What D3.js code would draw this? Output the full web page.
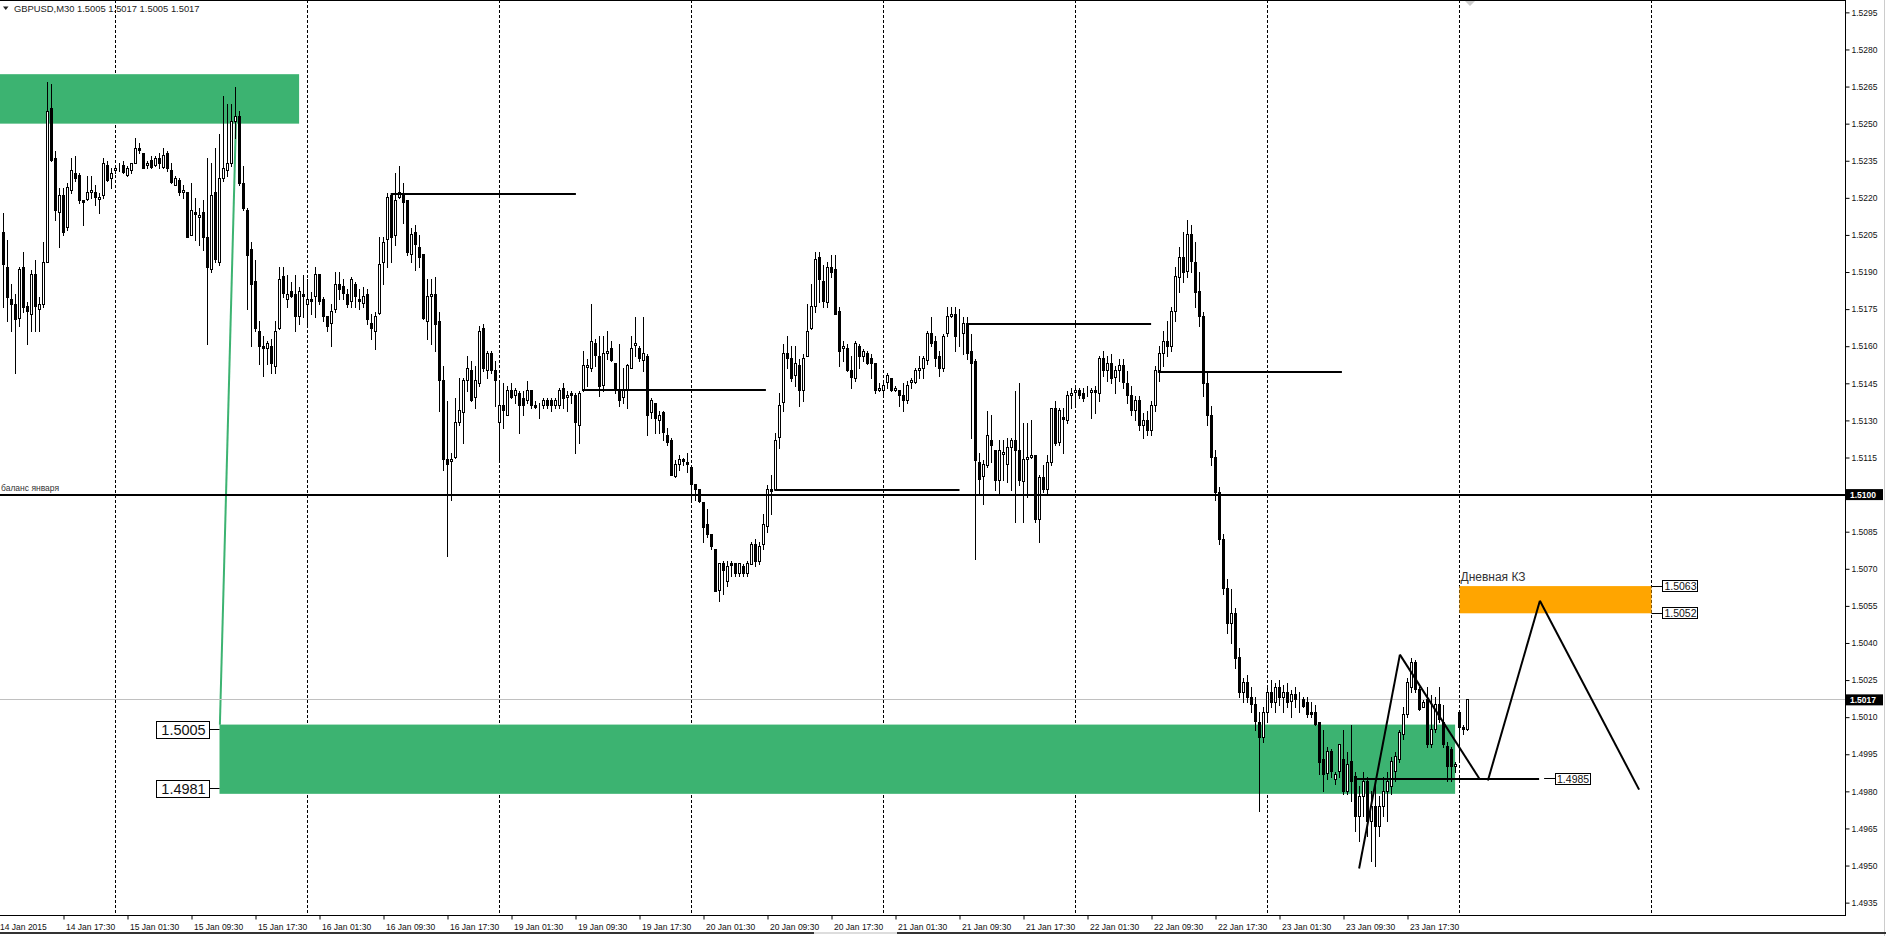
<!DOCTYPE html>
<html>
<head>
<meta charset="utf-8">
<script src="https://cdn.jsdelivr.net/npm/d3@7"></script>
<style>
  body { margin: 0; background: #fff; }
  svg { display: block; }
  text { font-family: "Liberation Sans", Arial, sans-serif; fill: #111; }
</style>
</head>
<body>
<svg id="chart" width="1886" height="936"></svg>
<script>
// GBPUSD M30, 14-26 Jan 2015. Candles are [open, high, low, close] in pips above 1.5000
const SYMBOL = "GBPUSD,M30";
const LAST_OHLC = [1.5005, 1.5017, 1.5005, 1.5017];
const FIRST_SLOT = 20; // first visible bar of 14 Jan is 10:00

const jan14 = [
  [206,214,176,193],[192,203,170,180],[179,185,166,177],[177,181,149,171],[171,192,168,191],
  [192,198,174,176],[176,178,161,174],[173,191,166,189],[189,195,166,176],[175,180,166,177],
  [177,202,176,194],[194,267,194,255],[256,266,235,235],[236,239,211,215],[214,224,200,221],
  [221,224,205,206],[208,226,207,224],[223,236,222,231],[230,237,227,228],[229,230,218,219],
  [219,219,209,218],[219,229,219,222],[222,229,220,223],[222,225,217,220],[219,222,214,220],
  [221,236,220,234],[233,235,227,227],[228,232,224,230]
];
const jan15 = [
  [231,233,230,232],[232,234,231,232],[233,235,230,230],[229,233,229,232],[231,234,230,234],
  [234,244,234,240],[240,242,238,239],[238,238,232,232],[233,235,232,234],[235,237,232,232],
  [233,237,233,236],[236,238,232,234],[232,240,232,237],[238,239,231,232],[231,234,226,226],
  [225,229,225,228],[227,228,221,222],[222,225,220,223],[222,222,204,204],[205,226,205,215],
  [214,220,203,213],[212,216,201,213],[214,219,199,204],[204,236,161,192],[191,234,190,221],
  [222,240,194,195],[194,246,193,228],[228,261,227,232],[231,258,229,234],[234,258,233,251],
  [251,265,244,253],[253,255,225,226],[226,233,215,216],[215,216,175,197],[199,202,160,185],
  [186,195,166,167],[166,170,153,160],[160,164,148,159],[159,162,153,161],[160,163,149,153],
  [152,170,149,166],[167,192,167,187],[188,192,180,181],[179,189,176,181],[182,186,180,180],
  [181,189,166,172],[172,184,169,182],[181,189,172,180]
];
const jan16 = [
  [177,187,168,179],[179,182,173,178],[180,192,172,189],[189,189,177,178],[179,180,170,172],
  [172,172,166,168],[169,177,160,174],[175,190,174,185],[185,190,179,183],[184,187,179,181],
  [181,183,176,177],[178,188,176,187],[185,186,176,180],[179,183,175,178],[177,184,176,180],
  [181,183,169,171],[169,173,163,167],[166,174,159,172],[173,204,173,193],[194,204,185,202],
  [203,222,192,220],[221,222,194,204],[205,230,201,219],[220,233,220,222],[221,226,210,218],
  [219,219,197,198],[197,208,194,205],[206,209,191,201],[200,205,192,196],[197,197,171,171],
  [170,187,163,180],[180,187,161,181],[181,188,158,169],[170,174,134,146],[146,152,110,114],
  [114,138,75,112],[113,117,98,114],[115,139,115,129],[129,147,128,134],[133,147,121,146],
  [146,156,142,151],[150,154,138,138],[139,152,135,146],[145,168,144,166],[167,169,150,151],
  [150,158,147,157],[157,158,149,150],[150,154,136,146]
];
const jan19 = [
  [129,145,114,136],[136,145,127,134],[132,144,132,142],[142,145,139,139],[140,143,137,142],
  [141,142,125,136],[139,142,132,136],[138,146,137,142],[142,142,135,136],[136,138,135,135],
  [136,137,131,136],[136,139,135,138],[138,139,135,136],[138,139,134,136],[136,139,135,138],
  [136,143,135,142],[143,145,135,139],[139,142,134,140],[141,142,137,140],[140,141,117,129],
  [128,142,121,141],[142,158,142,152],[151,155,144,152],[151,177,150,162],[161,163,152,156],
  [156,164,140,144],[144,164,142,157],[157,166,155,158],[159,162,154,154],[153,153,141,142],
  [142,161,136,138],[139,151,137,142],[142,153,135,152],[151,164,151,159],[160,172,156,161],
  [159,160,154,155],[154,172,150,157],[156,157,124,132],[133,139,131,138],[137,137,125,131],
  [130,134,125,132],[133,134,122,125],[124,127,120,121],[122,123,108,108],[107,114,107,112],
  [112,116,110,114],[114,115,112,113],[113,117,109,112]
];
const jan20 = [
  [111,111,98,104],[104,104,98,102],[102,102,97,97],[97,97,81,87],[88,94,83,84],
  [84,84,78,79],[78,78,61,61],[61,72,57,72],[72,73,60,69],[65,73,63,71],
  [72,73,67,71],[72,72,67,68],[68,72,67,72],[71,72,67,68],[68,73,67,72],
  [72,81,72,80],[80,82,71,73],[73,81,72,79],[80,92,78,88],[87,104,85,102],
  [102,108,92,101],[102,125,102,122],[123,141,119,136],[137,161,134,157],[157,164,151,155],
  [155,160,146,147],[148,160,144,153],[152,155,136,142],[142,157,138,155],[156,177,156,166],
  [167,185,167,176],[176,198,174,195],[196,198,178,187],[186,193,176,178],[178,194,176,192],
  [192,197,188,190],[191,197,173,173],[174,176,152,158],[159,162,154,160],[159,161,150,150],
  [150,156,143,147],[147,162,146,161],[160,161,151,156],[156,159,154,158],[157,158,153,153],
  [155,157,147,153],[153,153,141,142],[142,145,142,143]
];
const jan21 = [
  [142,146,140,144],[145,149,143,148],[147,147,142,142],[142,144,142,143],[142,142,136,140],
  [140,145,134,138],[138,146,137,144],[145,147,143,146],[145,151,145,150],[150,156,147,151],
  [151,156,147,155],[154,166,153,165],[165,172,160,161],[162,164,152,155],[156,158,148,151],
  [151,165,150,164],[165,176,164,172],[172,176,172,173],[173,176,158,164],[164,175,160,164],
  [165,172,157,169],[169,172,155,157],[158,165,123,153],[154,155,74,114],[113,117,100,106],
  [107,114,96,112],[112,134,111,124],[122,132,113,120],[118,118,102,106],[106,122,100,118],
  [116,122,106,117],[112,123,105,119],[119,123,102,122],[122,142,89,118],[118,145,104,106],
  [105,129,89,114],[114,129,99,115],[115,130,115,116],[116,116,89,90],[90,108,81,107],
  [107,112,101,102],[102,116,100,113],[113,135,112,135],[135,138,120,121],[121,135,120,134],
  [131,135,117,130],[130,142,129,140],[140,143,135,141]
];
const jan22 = [
  [141,144,136,142],[142,143,139,140],[141,143,138,139],[141,144,140,141],[141,143,131,142],
  [142,144,133,141],[141,156,138,155],[155,158,148,150],[150,156,146,153],[153,157,145,147],
  [147,152,141,150],[150,155,146,152],[152,155,143,145],[145,150,137,140],[140,144,132,134],
  [134,140,130,138],[138,140,126,128],[128,133,123,130],[130,134,124,126],[126,138,124,136],
  [136,152,134,150],[150,160,146,157],[157,166,152,162],[162,170,156,160],[160,176,158,174],
  [174,192,170,188],[188,200,182,196],[196,206,186,190],[190,211,188,205],[205,209,190,194],
  [194,202,176,182],[182,190,168,172],[172,174,140,145],[145,150,128,132],[132,136,112,115],
  [115,118,98,101],[101,103,80,82],[82,84,60,62],[62,66,44,48],[48,62,40,52],
  [52,54,30,34],[34,38,18,20],[20,26,16,24],[24,27,16,18],[18,22,12,15],
  [15,18,5,8],[8,12,-28,2],[2,14,0,12]
];
const jan23 = [
  [12,22,8,20],[20,25,14,16],[16,24,12,22],[22,25,15,18],[18,23,12,20],
  [20,24,14,16],[16,21,10,19],[19,22,14,17],[17,20,12,17],[17,18,14,14],
  [16,18,10,11],[12,16,10,11],[12,15,7,7],[8,8,-13,-8],[-7,5,-20,-13],
  [-13,-2,-15,-4],[-4,-3,-14,-12],[-15,-12,-17,-13],[-12,-1,-14,-1],[-7,5,-21,-20],
  [-20,-4,-21,-9],[-8,7,-24,-16],[-14,-12,-36,-30],[-30,-18,-40,-22],[-22,-12,-30,-16],
  [-16,-14,-38,-32],[-32,-20,-48,-26],[-26,-16,-50,-34],[-34,-22,-38,-26],[-26,-14,-30,-20],
  [-20,-12,-32,-16],[-18,-6,-21,-8],[-12,-4,-16,-6],[-7,5,-8,4],[3,14,1,11],
  [11,26,10,24],[22,34,20,32],[32,33,20,21],[21,22,13,13],[14,17,14,16],
  [17,22,-2,-1],[-1,19,-2,5],[5,18,4,15],[15,22,8,9],[8,15,-2,-1],
  [-2,0,-16,-10],[-3,-2,-16,-10],[-10,-8,-12,-9]
];
const jan26 = [[12,12,-8,6],[6,7,3,5],[5,17,5,17]];
const dayCandles = [jan14, jan15, jan16, jan19, jan20, jan21, jan22, jan23, jan26];

const timeTicks = [
  "14 Jan 17:30","15 Jan 01:30","15 Jan 09:30","15 Jan 17:30","16 Jan 01:30","16 Jan 09:30",
  "16 Jan 17:30","19 Jan 01:30","19 Jan 09:30","19 Jan 17:30","20 Jan 01:30","20 Jan 09:30",
  "20 Jan 17:30","21 Jan 01:30","21 Jan 09:30","21 Jan 17:30","22 Jan 01:30","22 Jan 09:30",
  "22 Jan 17:30","23 Jan 01:30","23 Jan 09:30","23 Jan 17:30"
];
const priceTicks = [
  1.4935,1.4950,1.4965,1.4980,1.4995,1.5010,1.5025,1.5040,1.5055,1.5070,1.5085,1.5100,1.5115,
  1.5130,1.5145,1.5160,1.5175,1.5190,1.5205,1.5220,1.5235,1.5250,1.5265,1.5280,1.5295
];

// drawn objects: [barFrom, barTo, priceTop, priceBottom]
const greenZones = [[0, 93.9, 1.5270, 1.5250], [74, 382.9, 1.5007, 1.4979]];
const orangeZone = [384, 432, 1.5063, 1.5052];
const greenLink = [[74.1, 1.50069], [78.1, 1.5250]];
// horizontal lines: [barFrom, barTo, price]
const hLines = [
  [116.8, 163.1, 1.52214], [164.8, 210.6, 1.51422], [212.7, 259, 1.51017],
  [260.8, 306.9, 1.51691], [308.6, 354.6, 1.51495], [358.1, 403.9, 1.4985]
];
// trend lines: [bar1, price1, bar2, price2]
const trendLines = [
  [358.9, 1.49488, 369.1, 1.50353], [369.1, 1.50353, 389.1, 1.49848],
  [391.1, 1.49844, 404.1, 1.50571], [404.1, 1.50571, 428.9, 1.49807]
];
const LEVEL = 1.5100, LEVEL_NAME = "баланс января";
const BID = 1.5017;
const zoneTags = ["1.5005", "1.4981"];
const zoneTagPrices = [1.5005, 1.4981];
const orangeTags = ["1.5063", "1.5052"];
const lineTag = "1.4985";
const ORANGE_TITLE = "Дневная КЗ";

const PLOT_R = 1845, PLOT_B = 915;
const svg = d3.select("#chart");
const x = d3.scaleLinear().domain([35, 371]).range([63.5, 1407.5]);
const y = d3.scaleLinear().domain([1.4930, 1.5300]).range([PLOT_B, 0]);
const pip = v => 1.5 + v / 10000;
const crisp = v => Math.round(v - 0.5) + 0.5;

let bars = [];
dayCandles.forEach(function(arr, d) {
  const start = d * 48 + (d === 0 ? FIRST_SLOT : 0);
  arr.forEach(function(c, k) {
    bars.push({ i: start + k, o: pip(c[0]), h: pip(c[1]), l: pip(c[2]), c: pip(c[3]) });
  });
});

svg.append("rect").attr("width", 1886).attr("height", 936).attr("fill", "#fff");
svg.append("clipPath").attr("id", "plot")
  .append("rect").attr("width", PLOT_R).attr("height", PLOT_B);
const plot = svg.append("g").attr("clip-path", "url(#plot)");

// day separators
const seps = d3.range(1, 10).map(d => d * 48);
plot.selectAll(".sep").data(seps).join("line")
  .attr("x1", d => crisp(x(d))).attr("x2", d => crisp(x(d)))
  .attr("y1", 0).attr("y2", PLOT_B)
  .attr("stroke", "#000").attr("stroke-dasharray", "3,2");

// zones
plot.selectAll(".zone").data(greenZones).join("rect")
  .attr("x", d => x(d[0])).attr("width", d => x(d[1]) - x(d[0]))
  .attr("y", d => y(d[2])).attr("height", d => y(d[3]) - y(d[2]))
  .attr("fill", "#3CB371");
plot.append("rect")
  .attr("x", x(orangeZone[0])).attr("width", x(orangeZone[1]) - x(orangeZone[0]))
  .attr("y", y(orangeZone[2])).attr("height", y(orangeZone[3]) - y(orangeZone[2]))
  .attr("fill", "#FFA500");
plot.append("line")
  .attr("x1", x(greenLink[0][0])).attr("y1", y(greenLink[0][1]))
  .attr("x2", x(greenLink[1][0])).attr("y2", y(greenLink[1][1]))
  .attr("stroke", "#3CB371").attr("stroke-width", 2);

// bid line
plot.append("line").attr("x1", 0).attr("x2", PLOT_R)
  .attr("y1", crisp(y(BID))).attr("y2", crisp(y(BID)))
  .attr("stroke", "#c0c0c0");

// candles
const cg = plot.append("g");
cg.selectAll(".wick").data(bars).join("line")
  .attr("x1", d => x(d.i)).attr("x2", d => x(d.i))
  .attr("y1", d => Math.round(y(d.h))).attr("y2", d => Math.round(y(d.l)) + 1)
  .attr("stroke", "#000");
cg.selectAll(".body").data(bars).join("rect")
  .attr("x", d => x(d.i) - 1)
  .attr("width", 2)
  .attr("y", d => crisp(y(Math.max(d.o, d.c))))
  .attr("height", d => Math.max(0, Math.round(Math.abs(y(d.o) - y(d.c)))))
  .attr("fill", d => d.c >= d.o ? "#fff" : "#000")
  .attr("stroke", "#000");

// level line and user lines
plot.append("line").attr("x1", 0).attr("x2", PLOT_R)
  .attr("y1", Math.round(y(LEVEL))).attr("y2", Math.round(y(LEVEL)))
  .attr("stroke", "#000").attr("stroke-width", 2);
plot.selectAll(".hl").data(hLines).join("line")
  .attr("x1", d => x(d[0])).attr("x2", d => x(d[1]))
  .attr("y1", d => Math.round(y(d[2]))).attr("y2", d => Math.round(y(d[2])))
  .attr("stroke", "#000").attr("stroke-width", 2);
plot.selectAll(".tl").data(trendLines).join("line")
  .attr("x1", d => x(d[0])).attr("y1", d => y(d[1]))
  .attr("x2", d => x(d[2])).attr("y2", d => y(d[3]))
  .attr("stroke", "#000").attr("stroke-width", 2);

// texts on chart
plot.append("text").attr("x", 1).attr("y", y(LEVEL) - 4)
  .style("font-size", "8.5px").style("fill", "#333").text(LEVEL_NAME);
plot.append("text").attr("x", x(orangeZone[0]) + 1).attr("y", y(orangeZone[2]) - 5)
  .style("font-size", "12px").style("fill", "#333").text(ORANGE_TITLE);

function tag(g, xLeft, yc, label, size, w, h) {
  g.append("rect").attr("x", crisp(xLeft)).attr("y", crisp(yc - h / 2))
    .attr("width", w).attr("height", h).attr("fill", "#fff").attr("stroke", "#000");
  g.append("text").attr("x", xLeft + w / 2 + 0.5).attr("y", yc).attr("dy", "0.36em")
    .attr("text-anchor", "middle").style("font-size", size + "px").text(label);
}
function connector(g, x1, x2, yy) {
  g.append("line").attr("x1", x1).attr("x2", x2).attr("y1", crisp(yy)).attr("y2", crisp(yy))
    .attr("stroke", "#000");
}
const tags = plot.append("g");
zoneTags.forEach(function(t, k) {
  const yy = y(zoneTagPrices[k]);
  const left = x(greenZones[1][0]);
  connector(tags, left - 10, left, yy);
  tag(tags, left - 63, yy, t, 14.5, 53, 17);
});
orangeTags.forEach(function(t, k) {
  const yy = y(orangeZone[2 + k]);
  const right = x(orangeZone[1]);
  connector(tags, right, right + 11, yy);
  tag(tags, right + 11, yy, t, 10.5, 35, 11);
});
{
  const hl = hLines[5];
  const yy = y(hl[2]);
  connector(tags, x(hl[1]) + 5, x(hl[1]) + 16, yy);
  tag(tags, x(hl[1]) + 16, yy, lineTag, 10.5, 35, 11);
}

// frame
svg.append("line").attr("x1", 0).attr("x2", PLOT_R).attr("y1", 0.5).attr("y2", 0.5).attr("stroke", "#000");
svg.append("line").attr("x1", 0).attr("x2", PLOT_R + 0.5).attr("y1", PLOT_B + 0.5).attr("y2", PLOT_B + 0.5).attr("stroke", "#000");
svg.append("line").attr("x1", PLOT_R + 0.5).attr("x2", PLOT_R + 0.5).attr("y1", 0).attr("y2", PLOT_B + 1).attr("stroke", "#000");

// right price axis
const yAxis = svg.append("g").attr("transform", "translate(" + (PLOT_R + 0.5) + ",0)")
  .call(d3.axisRight(y).tickValues(priceTicks).tickFormat(d3.format(".4f")).tickSize(4).tickPadding(2));
yAxis.select(".domain").remove();
yAxis.selectAll("text").style("font-size", "8.5px").style("font-family", null);
yAxis.selectAll("line").attr("stroke", "#000");

[LEVEL, BID].forEach(function(p) {
  const yy = y(p);
  svg.append("rect").attr("x", PLOT_R + 1).attr("y", yy - 5.5).attr("width", 37).attr("height", 11).attr("fill", "#000");
  svg.append("text").attr("x", PLOT_R + 5).attr("y", yy).attr("dy", "0.35em")
    .style("font-size", "8.5px").style("font-weight", "bold").style("fill", "#fff").text(d3.format(".4f")(p));
});

// bottom time axis
const tickIdx = timeTicks.map((t, k) => 35 + 16 * k);
const xAxis = svg.append("g").attr("transform", "translate(0," + (PLOT_B + 0.5) + ")")
  .call(d3.axisBottom(x).tickValues(tickIdx).tickFormat((d, k) => timeTicks[k]).tickSize(4).tickPadding(4));
xAxis.select(".domain").remove();
xAxis.selectAll("text").attr("text-anchor", "start").attr("x", 2).style("font-size", "8.5px").style("font-family", null);
xAxis.selectAll("line").attr("stroke", "#000");
svg.append("text").attr("x", 0).attr("y", PLOT_B + 15).style("font-size", "8.5px").text("14 Jan 2015");

// header
svg.append("path").attr("d", "M3,6.5 L8.5,6.5 L5.75,10 Z").attr("fill", "#222");
svg.append("text").attr("x", 14).attr("y", 11.5).style("font-size", "9.4px").style("fill", "#222")
  .text(SYMBOL + "  " + LAST_OHLC.map(d3.format(".4f")).join(" "));
svg.append("path").attr("d", "M1465,1 L1475,1 L1470,6 Z").attr("fill", "#ccc");

// window edges
svg.append("line").attr("x1", 1884.5).attr("x2", 1884.5).attr("y1", 0).attr("y2", 936).attr("stroke", "#ccc");
svg.append("line").attr("x1", 0).attr("x2", 1886).attr("y1", 933).attr("y2", 933).attr("stroke", "#333").attr("stroke-width", 2);
svg.append("line").attr("x1", 814).attr("x2", 897).attr("y1", 933).attr("y2", 933).attr("stroke", "#ddd").attr("stroke-width", 2);
</script>
</body>
</html>
